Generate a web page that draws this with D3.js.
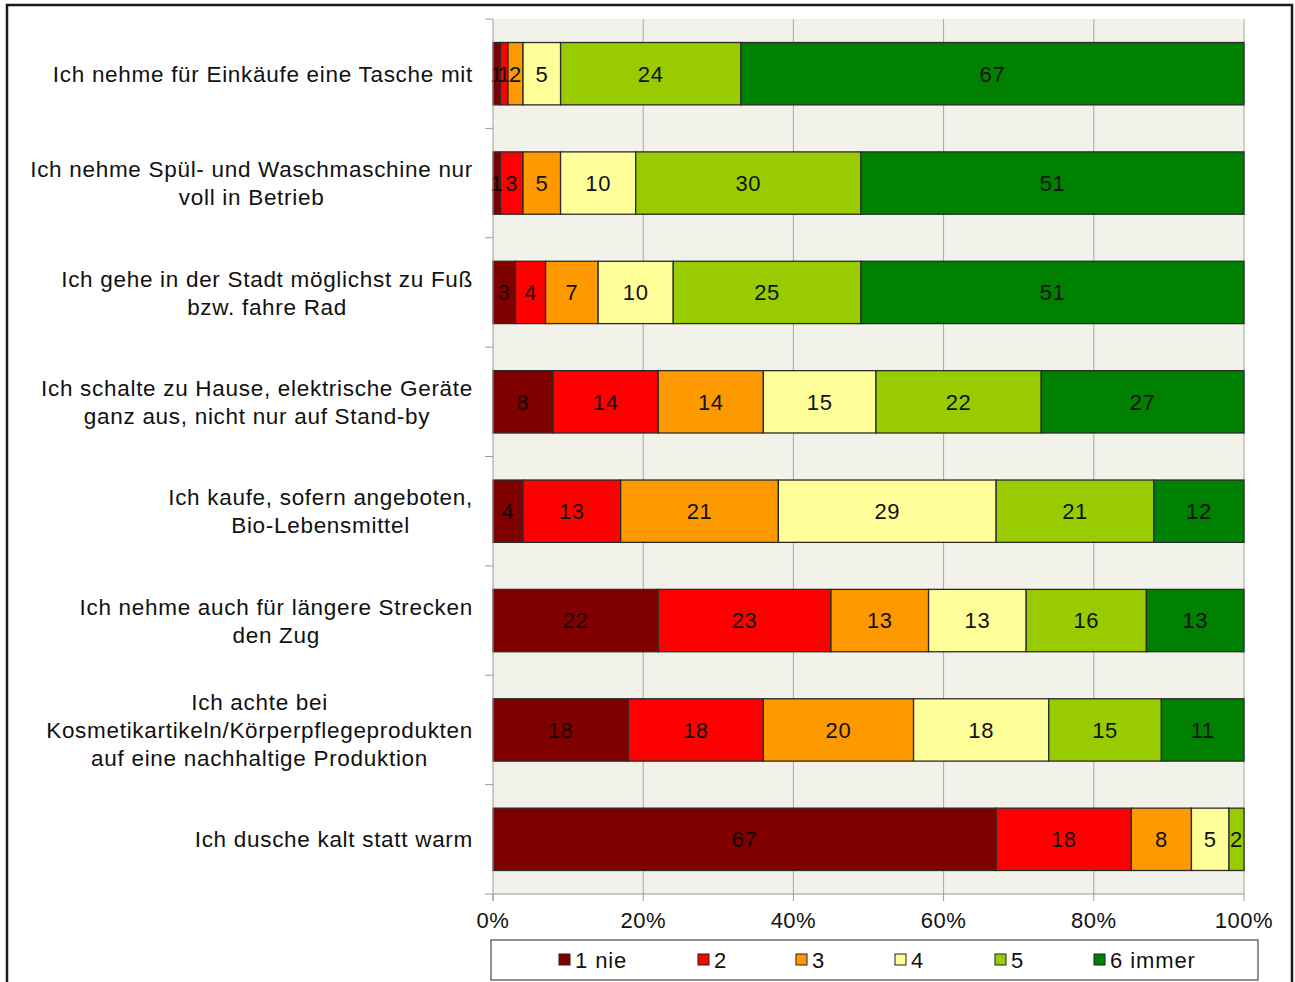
<!DOCTYPE html>
<html>
<head>
<meta charset="utf-8">
<script src="https://cdn.jsdelivr.net/npm/d3@7"></script>
<style>
  html, body { margin: 0; padding: 0; background: #fff; }
  svg { display: block; font-family: "Liberation Sans", Arial, sans-serif; }
</style>
</head>
<body>
<svg id="chart" width="1295" height="982"></svg>
<script>
// Statements (each may wrap onto several lines)
const categories = [
  ["Ich nehme für Einkäufe eine Tasche mit"],
  ["Ich nehme Spül- und Waschmaschine nur", "voll in Betrieb"],
  ["Ich gehe in der Stadt möglichst zu Fuß", "bzw. fahre Rad"],
  ["Ich schalte zu Hause, elektrische Geräte", "ganz aus, nicht nur auf Stand-by"],
  ["Ich kaufe, sofern angeboten,", "Bio-Lebensmittel"],
  ["Ich nehme auch für längere Strecken", "den Zug"],
  ["Ich achte bei", "Kosmetikartikeln/Körperpflegeprodukten", "auf eine nachhaltige Produktion"],
  ["Ich dusche kalt statt warm"]
];

// Answer scale, 1 = nie ... 6 = immer
const seriesNames = ["1 nie", "2", "3", "4", "5", "6 immer"];
const seriesColors = ["#800000", "#ff0000", "#ff9900", "#ffff99", "#99cc00", "#008000"];

// Percent shares per statement, one array per answer level
const s1 = [1, 1, 3, 8, 4, 22, 18, 67];
const s2 = [1, 3, 4, 14, 13, 23, 18, 18];
const s3 = [2, 5, 7, 14, 21, 13, 20, 8];
const s4 = [5, 10, 10, 15, 29, 13, 18, 5];
const s5 = [24, 30, 25, 22, 21, 16, 15, 2];
const s6 = [67, 51, 51, 27, 12, 13, 11, 0];
const seriesValues = [s1, s2, s3, s4, s5, s6];

const xTicks = [0, 20, 40, 60, 80, 100];

const svg = d3.select("#chart");

// Outer frame
svg.append("rect")
  .attr("x", 7).attr("y", 5).attr("width", 1285).attr("height", 990)
  .attr("fill", "#fff").attr("stroke", "#1a1a1a").attr("stroke-width", 2.5);

const plot = { left: 493, right: 1244, top: 19, bottom: 894 };

const x = d3.scaleLinear().domain([0, 100]).range([plot.left, plot.right]);
const y = d3.scaleBand().domain(d3.range(categories.length))
  .range([plot.top, plot.bottom]).paddingInner(0.43).paddingOuter(0.215);

// Plot background
svg.append("rect")
  .attr("x", plot.left).attr("y", plot.top)
  .attr("width", plot.right - plot.left).attr("height", plot.bottom - plot.top)
  .attr("fill", "#f2f1ea");

// Vertical gridlines
svg.append("g").selectAll("line").data(xTicks.slice(1)).join("line")
  .attr("x1", d => x(d)).attr("x2", d => x(d))
  .attr("y1", plot.top).attr("y2", plot.bottom)
  .attr("stroke", "#a6a6a6").attr("stroke-width", 1);

// Stacked bars
const stackData = categories.map((c, i) => {
  let acc = 0;
  return seriesValues.map((vals, s) => {
    const seg = { row: i, s, v: vals[i], x0: acc, x1: acc + vals[i] };
    acc += vals[i];
    return seg;
  });
}).flat().filter(d => d.v > 0);

const bars = svg.append("g");
bars.selectAll("rect").data(stackData).join("rect")
  .attr("x", d => x(d.x0)).attr("y", d => y(d.row))
  .attr("width", d => x(d.x1) - x(d.x0)).attr("height", y.bandwidth())
  .attr("fill", d => seriesColors[d.s])
  .attr("stroke", "#2b2b2b").attr("stroke-width", 1.3);

// Value labels
bars.selectAll("text").data(stackData).join("text")
  .attr("x", d => (x(d.x0) + x(d.x1)) / 2)
  .attr("y", d => y(d.row) + y.bandwidth() / 2)
  .attr("dy", "0.36em")
  .attr("text-anchor", "middle")
  .attr("font-size", 22)
  .attr("letter-spacing", 0.6)
  .attr("fill", d => d.s === 0 ? "#1a0000" : "#111")
  .text(d => d.v);

// Left axis with ticks at band boundaries
const yAxis = svg.append("g");
yAxis.append("line")
  .attr("x1", plot.left).attr("x2", plot.left)
  .attr("y1", plot.top).attr("y2", plot.bottom + 7)
  .attr("stroke", "#9a9a9a");
const step = y.step();
yAxis.selectAll("line.tick").data(d3.range(categories.length + 1)).join("line")
  .attr("class", "tick")
  .attr("x1", plot.left - 8).attr("x2", plot.left)
  .attr("y1", i => plot.top + i * step).attr("y2", i => plot.top + i * step)
  .attr("stroke", "#9a9a9a");

// Bottom axis
const xAxis = svg.append("g");
xAxis.append("line")
  .attr("x1", plot.left).attr("x2", plot.right)
  .attr("y1", plot.bottom).attr("y2", plot.bottom)
  .attr("stroke", "#9a9a9a");
xAxis.selectAll("line.tick").data(xTicks).join("line")
  .attr("class", "tick")
  .attr("x1", d => x(d)).attr("x2", d => x(d))
  .attr("y1", plot.bottom).attr("y2", plot.bottom + 7)
  .attr("stroke", "#9a9a9a");
xAxis.selectAll("text").data(xTicks).join("text")
  .attr("x", d => x(d)).attr("y", plot.bottom + 34)
  .attr("text-anchor", "middle").attr("font-size", 22)
  .attr("letter-spacing", 0.5).attr("fill", "#111")
  .text(d => d + "%");

// Category labels: block right-aligned to the axis, lines centred within the block
const lineH = 28;
const labelRight = 473;
const labels = svg.append("g").selectAll("g").data(categories).join("g");
labels.each(function (c, i) {
  const g = d3.select(this);
  const cy = y(i) + y.bandwidth() / 2 - (c.length - 1) * lineH / 2;
  const t = g.selectAll("text").data(c).join("text")
    .attr("font-size", 22.5).attr("letter-spacing", 0.7).attr("fill", "#111")
    .attr("text-anchor", "middle")
    .attr("y", (d, k) => cy + k * lineH).attr("dy", "0.36em")
    .text(d => d);
  const w = d3.max(t.nodes(), n => n.getComputedTextLength());
  t.attr("x", labelRight - w / 2);
});

// Legend
const legend = svg.append("g");
legend.append("rect")
  .attr("x", 491).attr("y", 940).attr("width", 767).attr("height", 40)
  .attr("fill", "#fff").attr("stroke", "#555").attr("stroke-width", 1.3);
const legendX = [559, 698, 796, 895, 995, 1094];
const items = legend.selectAll("g.item").data(seriesNames).join("g")
  .attr("class", "item")
  .attr("transform", (d, i) => `translate(${legendX[i]}, 960)`);
items.append("rect")
  .attr("x", 0).attr("y", -6).attr("width", 11).attr("height", 11)
  .attr("fill", (d, i) => seriesColors[i]).attr("stroke", "#222");
items.append("text")
  .attr("x", 16).attr("dy", "0.36em").attr("font-size", 22)
  .attr("letter-spacing", 0.9).attr("fill", "#111")
  .text(d => d);
</script>
</body>
</html>
